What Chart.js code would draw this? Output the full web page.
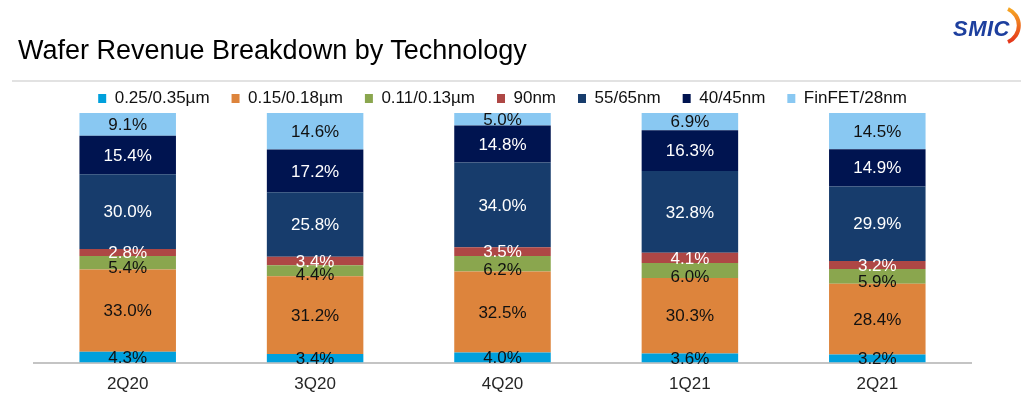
<!DOCTYPE html>
<html>
<head>
<meta charset="utf-8">
<script src="https://cdn.jsdelivr.net/npm/chart.js@4/dist/chart.umd.min.js"></script>
<style>
  html, body { margin: 0; padding: 0; background: #fff; }
  #page { position: relative; width: 1036px; height: 417px; overflow: hidden; font-family: 'Liberation Sans', Arial, sans-serif; }
  #title { position: absolute; left: 18px; top: 37px; font-size: 27px; line-height: 27px; color: #000; white-space: nowrap; }
  #rule { position: absolute; left: 12px; top: 80px; width: 1009px; height: 2px; background: #e2e2e2; }
  #logo { position: absolute; left: 950px; top: 4px; width: 80px; height: 42px; }
  #logo span { position: absolute; left: 3px; top: 12px; font: italic bold 22px 'Liberation Sans', Arial, sans-serif; color: #1d3f9e; letter-spacing: 0.5px; }
  #logo svg { position: absolute; left: 0; top: 0; }
  #wrap { position: absolute; left: 0; top: 0; width: 1036px; height: 417px; }
</style>
</head>
<body>
<div id="page">
  <div id="wrap"><canvas id="techChart"></canvas></div>
  <div id="title">Wafer Revenue Breakdown by Technology</div>
  <div id="rule"></div>
  <div id="logo">
    <svg width="80" height="42">
      <defs>
        <linearGradient id="arcGrad" x1="0" y1="0" x2="0" y2="1">
          <stop offset="0" stop-color="#f6a623"/>
          <stop offset="1" stop-color="#e4361b"/>
        </linearGradient>
      </defs>
      <path d="M58 5 A 18 18 0 0 1 58 38" fill="none" stroke="url(#arcGrad)" stroke-width="4"/>
    </svg>
    <span>SMIC</span>
  </div>
</div>
<script>
// quarters on the x axis
const quarters = ['2Q20', '3Q20', '4Q20', '1Q21', '2Q21'];

// share of wafer revenue (%) per technology node
const node025 = [4.3, 3.4, 4.0, 3.6, 3.2];
const node015 = [33.0, 31.2, 32.5, 30.3, 28.4];
const node011 = [5.4, 4.4, 6.2, 6.0, 5.9];
const node90 = [2.8, 3.4, 3.5, 4.1, 3.2];
const node55 = [30.0, 25.8, 34.0, 32.8, 29.9];
const node40 = [15.4, 17.2, 14.8, 16.3, 14.9];
const nodeFin = [9.1, 14.6, 5.0, 6.9, 14.5];

const seriesNames = ['0.25/0.35\u00b5m', '0.15/0.18\u00b5m', '0.11/0.13\u00b5m', '90nm', '55/65nm', '40/45nm', 'FinFET/28nm'];
const seriesValues = [node025, node015, node011, node90, node55, node40, nodeFin];
const seriesColors = ['#00a0dc', '#dd843c', '#8aa64e', '#ae4745', '#173c6c', '#001450', '#89c8f2'];
const labelColors = ['#111', '#111', '#111', '#fff', '#fff', '#fff', '#111'];

Chart.defaults.font.family = "'Liberation Sans', Arial, sans-serif";

// draws the percentage inside each segment
const segmentLabels = {
  id: 'segmentLabels',
  afterDatasetsDraw(chart) {
    const ctx = chart.ctx;
    ctx.save();
    ctx.font = "17px 'Liberation Sans', Arial, sans-serif";
    ctx.textAlign = 'center';
    ctx.textBaseline = 'middle';
    chart.data.datasets.forEach((ds, i) => {
      const meta = chart.getDatasetMeta(i);
      meta.data.forEach((bar, j) => {
        const p = bar.getProps(['x', 'y', 'base'], true);
        let cy = (p.y + p.base) / 2;
        if (i === 2) cy = p.base - 2; // green labels sit at the lower edge
        ctx.fillStyle = labelColors[i];
        ctx.fillText(ds.data[j].toFixed(1) + '%', p.x, cy + 1);
      });
    });
    ctx.restore();
  }
};

// pull the legend a bit closer to the bars
const tightLegend = {
  id: 'tightLegend',
  afterInit(chart) {
    const lg = chart.legend;
    if (!lg) return;
    const fit = lg.fit.bind(lg);
    lg.fit = function () { fit(); this.height -= 4; };
  }
};

new Chart(document.getElementById('techChart'), {
  type: 'bar',
  data: {
    labels: quarters,
    datasets: seriesNames.map((name, i) => ({
      label: name,
      data: seriesValues[i],
      backgroundColor: seriesColors[i],
      borderWidth: 0,
      categoryPercentage: 1,
      barPercentage: 0.515
    }))
  },
  options: {
    responsive: true,
    maintainAspectRatio: false,
    animation: false,
    layout: { padding: { top: 68, left: 34, right: 65, bottom: 18 } },
    scales: {
      x: {
        stacked: true,
        grid: { display: false },
        border: { color: '#c4c4c4', width: 2 },
        ticks: { color: '#262626', font: { size: 17 }, padding: 4 }
      },
      y: {
        stacked: true,
        min: 0,
        max: 100,
        display: false
      }
    },
    plugins: {
      legend: {
        position: 'top',
        labels: {
          color: '#111',
          font: { size: 17 },
          boxWidth: 8,
          boxHeight: 9,
          padding: 22
        }
      },
      tooltip: { enabled: false }
    }
  },
  plugins: [segmentLabels, tightLegend]
});
</script>
</body>
</html>
